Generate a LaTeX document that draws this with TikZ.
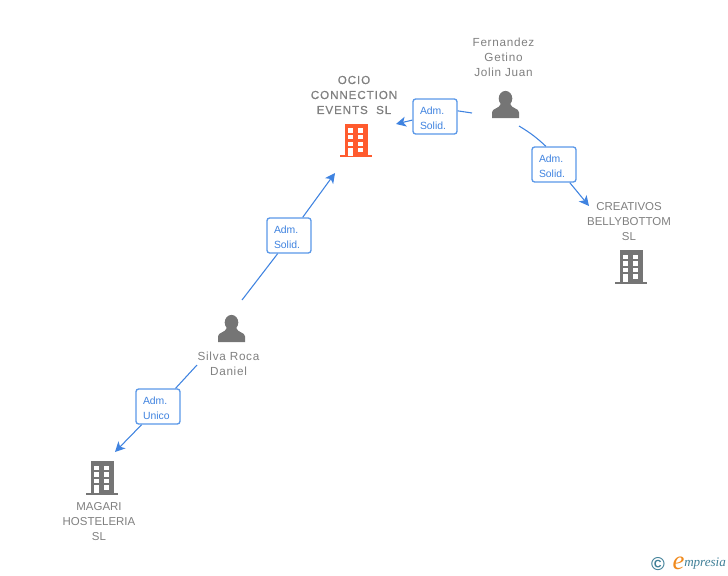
\documentclass[tikz,border=0pt]{standalone}
\usepackage{fontspec}
\setmainfont{Liberation Sans}
\newfontfamily\logofont{Liberation Serif}
\newfontfamily\strongfont[LetterSpace=8,FakeBold=0.6]{Liberation Sans}
\newfontfamily\personfont[LetterSpace=6]{Liberation Sans}
\definecolor{icongray}{HTML}{757575}
\definecolor{textgray}{HTML}{808080}
\definecolor{linkblue}{HTML}{3F83E0}
\definecolor{boxblue}{HTML}{5A98E8}
\definecolor{mainorange}{HTML}{FF5B2E}
\definecolor{logoteal}{HTML}{3F7F97}
\definecolor{logoorange}{HTML}{F08A1D}
\usetikzlibrary{arrows.meta}
\tikzset{
  holder/.style={text=textgray,align=center,font=\fontsize{8.6pt}{11.25pt}\selectfont,inner sep=0pt},
  personholder/.style={holder,font=\personfont\fontsize{8.8pt}{11.25pt}\selectfont},
  mainholder/.style={holder,font=\strongfont\fontsize{8.7pt}{11.25pt}\selectfont},
  role/.style={draw=boxblue,line width=1pt,rounded corners=2pt,fill=white,text=linkblue,
    minimum width=33pt,minimum height=26.25pt,inner sep=0pt,align=left,text width=22.5pt,
    font=\fontsize{7.8pt}{11.25pt}\selectfont,execute at begin node={\rule{0pt}{8pt}}},
  link/.style={draw=linkblue,line width=0.8pt},
  linkto/.style={link,-{Stealth[length=7.5pt,width=7.5pt,inset=2pt]}},
  person/.pic={
    \fill[icongray] (0,-6) ellipse[x radius=6.8,y radius=7.6];
    \fill[icongray] (-13.5,13.5) -- (-13.5,8) .. controls (-13.5,3.5) and (-6,4.5) .. (-4.5,-1)
      -- (4.5,-1) .. controls (6,4.5) and (13.5,3.5) .. (13.5,8) -- (13.5,13.5) -- cycle;
  },
  building/.pic={
    \fill[pic actions] (-11,-17) rectangle (11.7,15);
    \fill[pic actions] (-16,14.8) rectangle (16,16.8);
    \foreach \colx in {-7.7,2.3}{
      \foreach \rowy in {-12.4,-5.7,1}
        \fill[white] (\colx,\rowy) rectangle ++(5,4.4);
    }
    \fill[white] (-7.7,7.4) rectangle ++(5,7.6);
    \fill[white] (2.3,7.4) rectangle ++(5,4.2);
  },
}
\begin{document}
\begin{tikzpicture}[x=0.75pt,y=-0.75pt]
  \useasboundingbox (0,0) rectangle (728,575);

  \node[mainholder] (ocio) at (354,95) {OCIO\\CONNECTION\\EVENTS\ \ SL};
  \node[personholder] (fernandez) at (503.5,57.5) {Fernandez\\Getino\\Jolin Juan};
  \node[holder] (creativos) at (629,222) {CREATIVOS\\BELLYBOTTOM\\SL};
  \node[personholder] (silva) at (228.5,364) {Silva Roca\\Daniel};
  \node[holder] (magari) at (99,522) {MAGARI\\HOSTELERIA\\SL};

  \pic[fill=mainorange] at (356,140.5) {building};
  \pic[fill=icongray] at (631,267) {building};
  \pic[fill=icongray] at (102,478) {building};
  \pic at (505.5,104.5) {person};
  \pic at (231.5,328.5) {person};

  \node[role] (solidocio) at (435,116.5) {Adm.\\Solid.};
  \node[role] (solidcreativos) at (554,164.5) {Adm.\\Solid.};
  \node[role] (solidsilva) at (289,235.5) {Adm.\\Solid.};
  \node[role] (unico) at (158,406.5) {Adm.\\Unico};

  \coordinate (fernandezleft) at (472,113);
  \coordinate (fernandezdown) at (519,126);
  \coordinate (silvaup) at (242,300);
  \coordinate (silvadown) at (197,365);
  \coordinate (ociotip) at (396,124);
  \coordinate (ociobelow) at (335,173);
  \coordinate (creativostip) at (589,206);
  \coordinate (magaritip) at (115,452);

  \draw[link] (fernandezleft) -- (solidocio.14);
  \draw[linkto] (solidocio.189) -- (ociotip);
  \draw[link] (fernandezdown) to[bend left=6] (solidcreativos.114);
  \draw[linkto] (solidcreativos.-49) -- (creativostip);
  \draw[link] (silvaup) -- (solidsilva.238);
  \draw[linkto] (solidsilva.53) -- (ociobelow);
  \draw[link] (silvadown) -- (unico.46);
  \draw[linkto] (unico.228) -- (magaritip);

  \node[text=logoteal,inner sep=0pt,font=\bfseries\fontsize{14pt}{14pt}\selectfont] (copyr) at (658,564) {\textcopyright};
  \node[text=logoorange,inner sep=0pt,font=\logofont\itshape\fontsize{20pt}{20pt}\selectfont] (logoe) at (678.5,563) {e};
  \node[text=logoteal,inner sep=0pt,anchor=west,font=\logofont\itshape\fontsize{9.8pt}{10pt}\selectfont] (logotext) at (684,564) {mpresia};
\end{tikzpicture}
\end{document}
